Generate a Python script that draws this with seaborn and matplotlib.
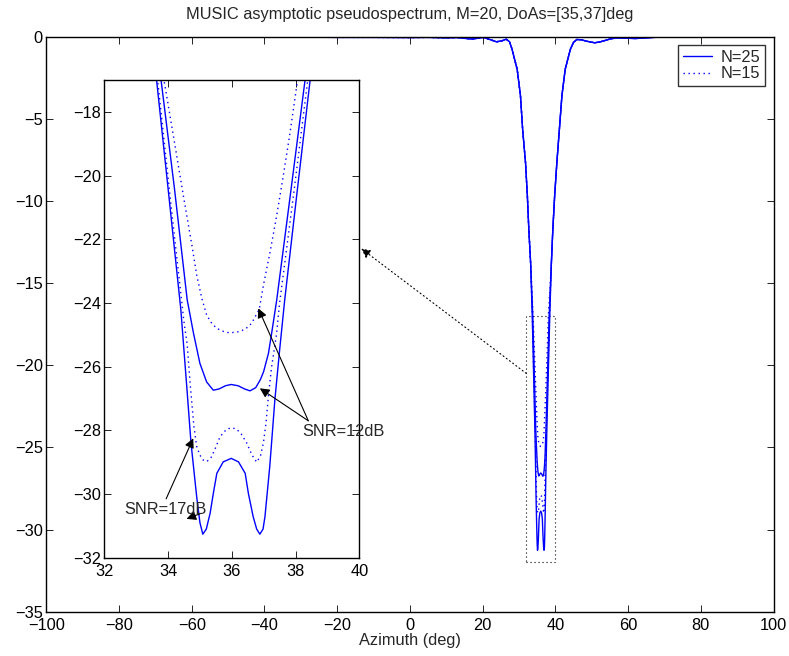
import numpy as np
import pandas as pd
import matplotlib
matplotlib.use("Agg")
import matplotlib.pyplot as plt
from matplotlib.patches import Rectangle
from matplotlib.lines import Line2D
import seaborn as sns

# ---------------- data ----------------
# shared flanks of the pseudospectrum (identical at main-plot resolution)
wing_left_x = [-90, -80, -70, -60, -50, -40, -30, -20, -10, 0, 5, 10, 13, 15.5, 17.2,
               18.8, 20.2, 22, 23.8, 25.3, 26.5, 27.4, 28.1, 29.5, 30.4, 31.0, 31.8,
               32.3, 32.7, 33.2]
wing_left_y = [-0.03, -0.03, -0.03, -0.04, -0.03, -0.04, -0.04, -0.05, -0.05, -0.06,
               -0.05, -0.08, -0.06, -0.12, -0.15, -0.1, -0.05, -0.18, -0.32, -0.26,
               -0.16, -0.32, -0.79, -2.0, -3.6, -5.66, -7.7, -9.7, -11.75, -13.8]
wing_right_x = [38.9, 39.3, 39.8, 40.4, 41.1, 41.8, 42.7, 44.1, 45.0, 45.9, 47.2, 48.5,
                50.8, 52.2, 53.5, 55.2, 57, 59.5, 62, 68, 75, 82, 90]
wing_right_y = [-13.8, -11.75, -9.7, -7.7, -5.66, -3.6, -2.0, -0.79, -0.35, -0.18,
                -0.2, -0.28, -0.38, -0.33, -0.25, -0.14, -0.08, -0.1, -0.12, -0.04,
                -0.04, -0.02, -0.02]

# null region, N=25, SNR=17dB (solid)
s17_x = [33.64, 34.0, 34.4, 34.6, 34.72, 34.9, 35.0, 35.09, 35.2, 35.32, 35.42, 35.53,
         35.73, 35.98, 36.21, 36.42, 36.52, 36.67, 36.78, 36.88, 36.98, 37.04, 37.11,
         37.19, 37.27, 37.35, 37.5, 37.66, 38.05, 38.45]
s17_y = [-17.0, -20.4, -24.2, -26.8, -28.4, -30.1, -30.9, -31.26, -31.1, -30.6, -29.98,
         -29.35, -28.99, -28.88, -28.99, -29.35, -29.98, -30.71, -31.1, -31.26, -31.1,
         -30.71, -29.98, -29.14, -28.1, -27.05, -25.48, -23.9, -20.5, -17.06]
# null region, N=25, SNR=12dB (solid)
s12_x = [33.78, 34.2, 34.6, 34.8, 35.0, 35.21, 35.42, 35.6, 35.8, 35.98, 36.2, 36.4,
         36.57, 36.75, 36.9, 37.0, 37.15, 37.25, 37.41, 37.85, 38.29]
s12_y = [-17.0, -20.4, -23.9, -24.96, -25.9, -26.48, -26.74, -26.7, -26.6, -26.56,
         -26.6, -26.7, -26.76, -26.66, -26.4, -26.15, -25.58, -24.95, -23.9, -20.5, -17.06]
# null region, N=15, SNR=17dB (dotted)
d17_x = [33.69, 34.1, 34.5, 34.6, 34.69, 34.81, 34.9, 35.0, 35.1, 35.22, 35.35, 35.47,
         35.63, 35.84, 36.0, 36.15, 36.3, 36.47, 36.62, 36.78, 36.9, 36.99, 37.07,
         37.15, 37.25, 37.4, 37.5, 37.95, 38.37]
d17_y = [-17.16, -21.0, -24.6, -25.3, -26.5, -27.87, -28.51, -28.78, -28.93, -28.98,
         -28.85, -28.6, -28.2, -27.96, -27.92, -27.96, -28.12, -28.4, -28.75, -29.0,
         -28.8, -28.4, -27.8, -26.9, -26.0, -25.0, -24.0, -20.5, -17.1]
# null region, N=15, SNR=12dB (dotted)
d12_x = [33.9, 34.2, 34.5, 34.75, 34.9, 35.06, 35.21, 35.37, 35.53, 35.75, 35.94,
         36.25, 36.45, 36.62, 36.86, 37.0, 37.2, 37.4, 37.6, 37.82, 38.04]
d12_y = [-17.16, -18.95, -20.75, -22.2, -23.13, -23.86, -24.38, -24.64, -24.80, -24.9,
         -24.94, -24.9, -24.8, -24.64, -24.2, -23.4, -22.4, -21.3, -20.1, -18.7, -17.16]

series_names = ["N=25, SNR=17dB", "N=25, SNR=12dB", "N=15, SNR=17dB", "N=15, SNR=12dB"]
legend_labels = ["N=25", "N=15"]
title_text = "MUSIC asymptotic pseudospectrum, M=20, DoAs=[35,37]deg"
xlabel_text = "Azimuth (deg)"
main_xticks = list(range(-100, 101, 20))
main_yticks = list(range(-35, 1, 5))
inset_xticks = [32, 34, 36, 38, 40]
inset_yticks = [-32, -30, -28, -26, -24, -22, -20, -18]

# ---------------- build long table ----------------
rows = []
for name, xs, ys in zip(series_names, [s17_x, s12_x, d17_x, d12_x],
                        [s17_y, s12_y, d17_y, d12_y]):
    fx = wing_left_x + xs + wing_right_x
    fy = wing_left_y + ys + wing_right_y
    for i, (a, b) in enumerate(zip(fx, fy)):
        rows.append({"series": name, "N": name.split(",")[0], "x": a, "y": b, "i": i})
df = pd.DataFrame(rows)

# ---------------- style ----------------
sns.set_style("ticks")
plt.rcParams["font.family"] = ["Liberation Sans", "DejaVu Sans"]
plt.rcParams["axes.linewidth"] = 1.0
plt.rcParams["xtick.direction"] = "in"
plt.rcParams["ytick.direction"] = "in"
plt.rcParams["xtick.top"] = True
plt.rcParams["ytick.right"] = True

BLUE = "#0000ff"
DOT = (0, (1.0, 2.6))
styles = {"N=25": "-", "N=15": DOT}
FS = 11.8

fig = plt.figure(figsize=(7.89, 6.56), dpi=100)
ax = fig.add_axes([0.0587, 0.0675, 0.9217, 0.8768])

def draw(axis):
    for name in series_names:
        sub = df[df["series"] == name]
        nkey = name.split(",")[0]
        sns.lineplot(data=sub, x="x", y="y", ax=axis, color=BLUE, lw=1.0,
                     linestyle=styles[nkey], estimator=None, sort=False,
                     legend=False)

def style_axis(axis):
    axis.tick_params(axis="both", labelsize=FS, length=5, width=0.6, colors="black")
    axis.tick_params(axis="x", pad=4.5)
    axis.tick_params(axis="y", pad=2.5)
    axis.set_xlabel("")
    axis.set_ylabel("")
    for s in axis.spines.values():
        s.set_visible(True)
        s.set_color("black")

draw(ax)
ax.set_xlim(-100, 100)
ax.set_ylim(-35, 0)
ax.set_xticks(main_xticks)
ax.set_yticks(main_yticks)
style_axis(ax)
ax.set_xlabel(xlabel_text, fontsize=FS, labelpad=0)
ax.set_title(title_text, fontsize=FS, pad=12.5)

# legend
handles = [Line2D([], [], color=BLUE, lw=1.0, ls=styles[k]) for k in legend_labels]
leg = ax.legend(handles, legend_labels, loc="upper right", fontsize=FS,
                frameon=True, fancybox=False, borderaxespad=0.5,
                handlelength=1.8, handletextpad=0.5, borderpad=0.3,
                labelspacing=0.1)
leg.get_frame().set_edgecolor("black")
leg.get_frame().set_linewidth(1.0)

# zoom rectangle and connector in main axes
inset_xlim = (32, 40)
inset_ylim = (-32, -17)
ax.add_patch(Rectangle((inset_xlim[0], inset_ylim[0]),
                       inset_xlim[1] - inset_xlim[0], inset_ylim[1] - inset_ylim[0],
                       fill=False, ls=DOT, lw=0.8, ec="black", zorder=1))
ax.annotate("", xy=(-13.4, -12.9), xytext=(inset_xlim[0], -20.5),
            arrowprops=dict(arrowstyle="-|>", ls=DOT, lw=0.8, color="black",
                            mutation_scale=14, shrinkA=0, shrinkB=0))

# inset axes
axi = fig.add_axes([0.1322, 0.1498, 0.3232, 0.7282])
axi.set_facecolor("white")
draw(axi)
axi.set_xlim(*inset_xlim)
axi.set_ylim(*inset_ylim)
axi.set_xticks(inset_xticks)
axi.set_yticks(inset_yticks)
style_axis(axi)

arrow_kw = dict(arrowstyle="-|>", lw=0.8, color="black", mutation_scale=14,
                shrinkA=0, shrinkB=0)
# SNR=12dB
axi.text(38.22, -28.05, "SNR=12dB", fontsize=FS, va="center", ha="left", clip_on=False)
axi.annotate("", xy=(36.88, -26.68), xytext=(38.4, -27.7), arrowprops=arrow_kw,
             annotation_clip=False)
axi.annotate("", xy=(36.83, -24.17), xytext=(38.4, -27.7), arrowprops=arrow_kw,
             annotation_clip=False)
# SNR=17dB
axi.annotate("", xy=(34.79, -28.25), xytext=(33.94, -30.15), arrowprops=arrow_kw,
             annotation_clip=False)
axi.annotate("", xy=(34.58, -30.78), xytext=(35.0, -30.62), arrowprops=arrow_kw,
             annotation_clip=False)
axi.text(32.62, -30.5, "SNR=17dB", fontsize=FS, va="center", ha="left", clip_on=False)

fig.savefig("out.png", dpi=100)
